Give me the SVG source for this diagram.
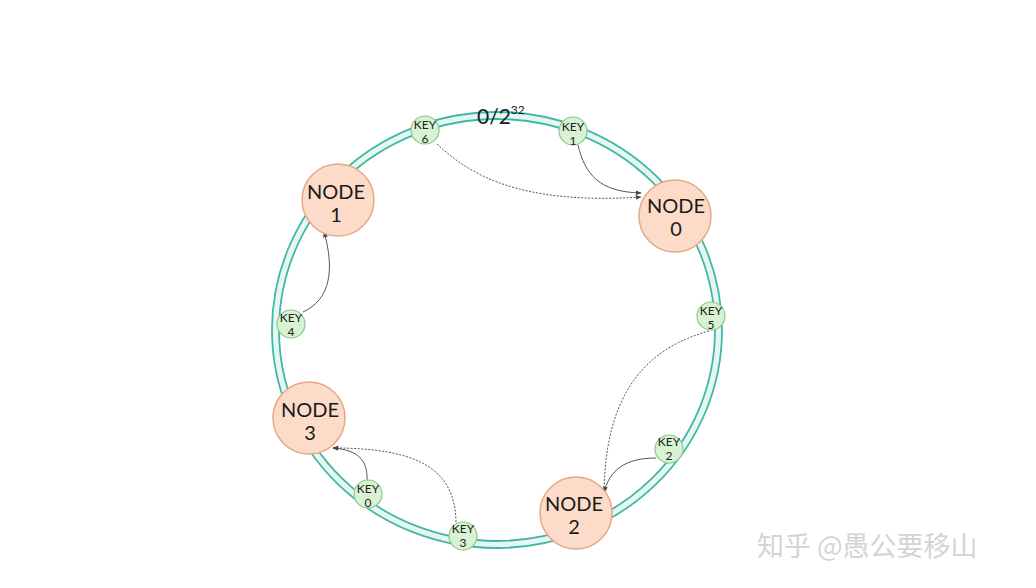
<svg xmlns="http://www.w3.org/2000/svg" width="1036" height="588" viewBox="0 0 1036 588">
<defs>
<style>
.ring{fill:none;stroke:#3fb8a3;stroke-width:1.8}
.band{fill:none;stroke:#e6f7f3;stroke-width:5}
.node circle{fill:#fcdcc8;stroke:#e6a883;stroke-width:1.5}
.node text{font-family:Lato,"Open Sans","Liberation Sans",sans-serif;font-size:20px;fill:#1a1a1a;text-anchor:middle}
.key circle{fill:#d9f2d3;stroke:#8bc98a;stroke-width:1.2}
.key text{font-family:Lato,"Open Sans","Liberation Sans",sans-serif;font-size:12px;fill:#222;text-anchor:middle}
.conn path{fill:none;stroke:#555;stroke-width:1;marker-end:url(#ah)}
.dash{stroke-dasharray:2 1.5}
</style>
<marker id="ah" viewBox="0 0 10 10" refX="9" refY="5" markerWidth="6" markerHeight="6" orient="auto">
<path d="M0,1 L10,5 L0,9 z" fill="#444"/>
</marker>
</defs>
<rect width="1036" height="588" fill="#ffffff"/>
<g id="ring">
<ellipse class="band" cx="497" cy="330" rx="221.5" ry="214.5"/>
<ellipse class="ring" cx="497" cy="330" rx="225" ry="218"/>
<ellipse class="ring" cx="497" cy="330" rx="218" ry="211"/>
<text x="477" y="124" font-family="Lato, Open Sans, Liberation Sans, sans-serif" font-size="21" fill="#16202c">0/2<tspan font-size="12" dy="-10">32</tspan></text>
</g>
<g id="connectors" class="conn">
<path class="dash" d="M437,144 C470,175 520,205 641,197"/>
<path d="M578,145 C585,175 600,192 641,193"/>
<path class="dash" d="M709,331 C640,350 605,400 604,494"/>
<path d="M656,458 C625,458 610,470 604,492"/>
<path d="M303,312 C330,300 335,270 324,232"/>
<path d="M367,481 C368,460 358,450 333,448"/>
<path class="dash" d="M456,522 C455,470 420,448 333,448"/>
</g>
<g id="node1" class="node"><circle cx="338" cy="200" r="36"/><text x="336" y="199">NODE</text><text x="336" y="222">1</text></g>
<g id="node0" class="node"><circle cx="675" cy="216" r="36"/><text x="676" y="213">NODE</text><text x="676" y="236">0</text></g>
<g id="node3" class="node"><circle cx="309" cy="418" r="36"/><text x="310" y="417">NODE</text><text x="310" y="440">3</text></g>
<g id="node2" class="node"><circle cx="576" cy="513" r="36"/><text x="574" y="511">NODE</text><text x="574" y="534">2</text></g>
<g id="key6" class="key"><circle cx="425" cy="130" r="14"/><text x="425" y="129">KEY</text><text x="425" y="143">6</text></g>
<g id="key1" class="key"><circle cx="573" cy="131" r="14"/><text x="573" y="131">KEY</text><text x="573" y="145">1</text></g>
<g id="key5" class="key"><circle cx="711" cy="316" r="14"/><text x="711" y="315">KEY</text><text x="711" y="329">5</text></g>
<g id="key2" class="key"><circle cx="669" cy="449" r="14"/><text x="669" y="446">KEY</text><text x="669" y="460">2</text></g>
<g id="key3" class="key"><circle cx="463" cy="536" r="14"/><text x="463" y="533">KEY</text><text x="463" y="547">3</text></g>
<g id="key0" class="key"><circle cx="368" cy="494" r="14"/><text x="368" y="493">KEY</text><text x="368" y="507">0</text></g>
<g id="key4" class="key"><circle cx="291" cy="324" r="14"/><text x="291" y="322">KEY</text><text x="291" y="336">4</text></g>
<text x="757" y="556" font-family="Noto Sans CJK SC, sans-serif" font-size="27" fill="#d4d4d4">知乎 @愚公要移山</text>
</svg>
